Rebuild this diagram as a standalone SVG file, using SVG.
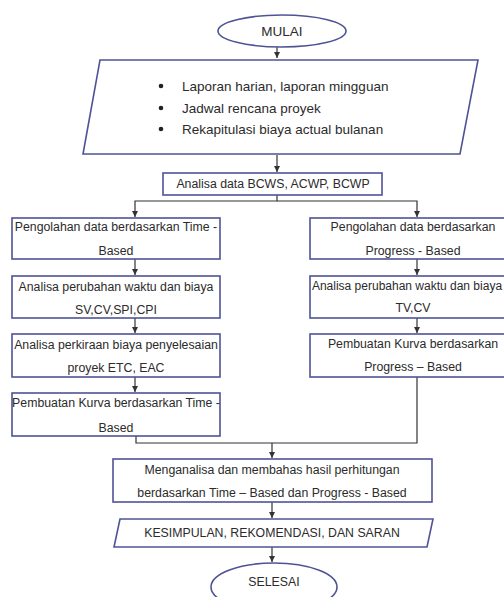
<svg xmlns="http://www.w3.org/2000/svg" width="504" height="597" viewBox="0 0 504 597">
<defs>
<marker id="ah" markerUnits="userSpaceOnUse" markerWidth="8" markerHeight="8" refX="6" refY="3" orient="auto">
<path d="M0,0 L6,3 L0,6 Z" fill="#333"/>
</marker>
<style>
.box{fill:#fff;stroke:#4e5396;stroke-width:1.6}
.con{fill:none;stroke:#333;stroke-width:1.2}
.arr{marker-end:url(#ah)}
text{font-family:"Liberation Sans",Arial,sans-serif;font-size:12.3px;fill:#2b2b2b}
.c{text-anchor:middle}
.big{font-size:13.5px}
</style>
</defs>
<rect width="504" height="597" fill="#fff"/>
<g id="connectors">
<path class="con arr" d="M277,47 V58"/>
<path class="con arr" d="M277,155 V172"/>
<path class="con arr" d="M277,195 V201 H135 V217"/>
<path class="con arr" d="M277,201 H417 V217"/>
<path class="con arr" d="M135,259 V275"/>
<path class="con arr" d="M135,318 V333"/>
<path class="con arr" d="M135,377 V392"/>
<path class="con arr" d="M417,259 V275"/>
<path class="con arr" d="M417,318 V333"/>
<path class="con" d="M136,436 V443 H417 V377"/>
<path class="con arr" d="M272,443 V458"/>
<path class="con arr" d="M272,502 V518"/>
<path class="con arr" d="M272,547 V562"/>
</g>
<g id="mulai">
<ellipse class="box" cx="282" cy="31" rx="64" ry="16"/>
<text class="c big" x="282" y="36">MULAI</text>
</g>
<g id="input">
<polygon class="box" points="100,60 478,60 460,154 83,154"/>
<circle cx="161" cy="86" r="2.3" fill="#222"/>
<circle cx="161" cy="108" r="2.3" fill="#222"/>
<circle cx="161" cy="129" r="2.3" fill="#222"/>
<text class="big" x="182" y="91">Laporan harian, laporan mingguan</text>
<text class="big" x="182" y="113">Jadwal rencana proyek</text>
<text class="big" x="182" y="134">Rekapitulasi biaya actual  bulanan</text>
</g>
<g id="analisa-data">
<rect class="box" x="163" y="173" width="219" height="22"/>
<text class="c" x="273" y="188">Analisa data BCWS, ACWP, BCWP</text>
</g>
<g id="left1">
<rect class="box" x="12" y="218" width="208" height="41"/>
<text class="c" x="116" y="231">Pengolahan data berdasarkan Time -</text>
<text class="c" x="116" y="255">Based</text>
</g>
<g id="left2">
<rect class="box" x="12" y="276" width="208" height="42"/>
<text class="c" x="116" y="291">Analisa perubahan waktu dan biaya</text>
<text class="c" x="116" y="314">SV,CV,SPI,CPI</text>
</g>
<g id="left3">
<rect class="box" x="12" y="334" width="208" height="43"/>
<text class="c" x="116" y="349">Analisa perkiraan biaya penyelesaian</text>
<text class="c" x="116" y="372">proyek ETC, EAC</text>
</g>
<g id="left4">
<rect class="box" x="12" y="393" width="208" height="43"/>
<text class="c" x="116" y="407">Pembuatan Kurva berdasarkan Time -</text>
<text class="c" x="116" y="432">Based</text>
</g>
<g id="right1">
<rect class="box" x="310" y="218" width="206" height="41"/>
<text class="c" x="413" y="231">Pengolahan data berdasarkan</text>
<text class="c" x="413" y="255">Progress - Based</text>
</g>
<g id="right2">
<rect class="box" x="310" y="276" width="206" height="42"/>
<text class="c" x="407" y="290" style="font-size:12px">Analisa perubahan waktu dan biaya</text>
<text class="c" x="413" y="312">TV,CV</text>
</g>
<g id="right3">
<rect class="box" x="310" y="334" width="206" height="43"/>
<text class="c" x="413" y="348">Pembuatan Kurva berdasarkan</text>
<text class="c" x="413" y="371">Progress – Based</text>
</g>
<g id="menganalisa">
<rect class="box" x="113" y="459" width="319" height="43"/>
<text class="c" x="272" y="474">Menganalisa dan membahas hasil perhitungan</text>
<text class="c" x="272" y="497">berdasarkan Time – Based dan Progress - Based</text>
</g>
<g id="kesimpulan">
<polygon class="box" points="120,519 433,519 427,547 114,547"/>
<text class="c" x="272" y="537">KESIMPULAN, REKOMENDASI,  DAN SARAN</text>
</g>
<g id="selesai">
<ellipse class="box" cx="274" cy="587" rx="63" ry="24"/>
<text class="c" x="274" y="586">SELESAI</text>
</g>
</svg>
